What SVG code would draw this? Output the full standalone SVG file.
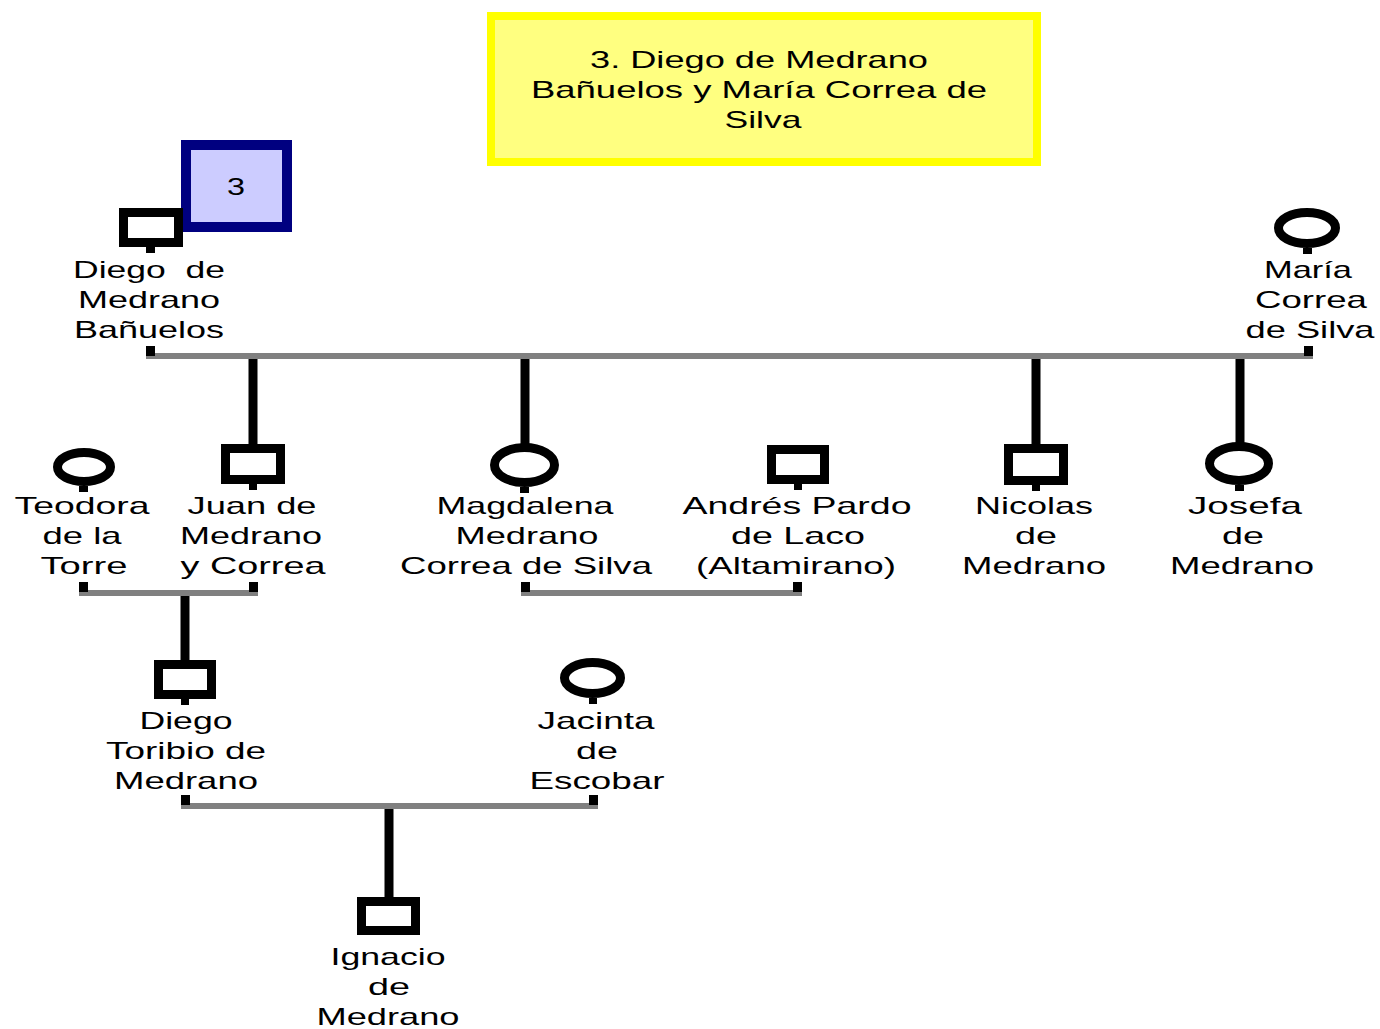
<svg xmlns="http://www.w3.org/2000/svg" width="1380" height="1029" viewBox="0 0 1380 1029">
<style>
.t{font-family:"Liberation Sans",Arial,sans-serif;font-size:24px;fill:#000;text-anchor:middle}
.sq,.ci{fill:#fff;stroke:#000;stroke-width:9}
.m{stroke:#808080;stroke-width:6;fill:none}
.d{stroke:#000;stroke-width:9;fill:none}
.k{fill:#000}
</style>
<rect width="1380" height="1029" fill="#fff"/>
<g id="title">
<rect x="491" y="16" width="546" height="146" fill="#ffff80" stroke="#ffff00" stroke-width="8"/>
<text class="t" x="759" y="68" textLength="338" lengthAdjust="spacingAndGlyphs">3. Diego de Medrano</text>
<text class="t" x="759" y="98" textLength="456" lengthAdjust="spacingAndGlyphs">Bañuelos y María Correa de</text>
<text class="t" x="763" y="128" textLength="77" lengthAdjust="spacingAndGlyphs">Silva</text>
</g>
<g id="badge">
<rect x="186" y="145" width="101" height="82" fill="#ccccff" stroke="#000080" stroke-width="10"/>
<text class="t" x="236" y="195" textLength="18" lengthAdjust="spacingAndGlyphs">3</text>
</g>
<g id="connectors">
<line class="m" x1="146" y1="356" x2="1313" y2="356"/>
<rect class="k" x="146" y="346" width="9" height="10"/>
<rect class="k" x="1304" y="346" width="9" height="10"/>
<line class="d" x1="253" y1="359" x2="253" y2="445"/>
<line class="d" x1="525" y1="359" x2="525" y2="445"/>
<line class="d" x1="1036" y1="359" x2="1036" y2="445"/>
<line class="d" x1="1240" y1="359" x2="1240" y2="445"/>
<line class="m" x1="79" y1="593" x2="258" y2="593"/>
<rect class="k" x="79" y="582" width="9" height="10"/>
<rect class="k" x="249" y="582" width="9" height="10"/>
<line class="d" x1="185" y1="596" x2="185" y2="661"/>
<line class="m" x1="521" y1="593" x2="802" y2="593"/>
<rect class="k" x="521" y="582" width="9" height="10"/>
<rect class="k" x="793" y="582" width="9" height="10"/>
<line class="m" x1="181" y1="806" x2="598" y2="806"/>
<rect class="k" x="181" y="795" width="9" height="10"/>
<rect class="k" x="589" y="795" width="9" height="10"/>
<line class="d" x1="389" y1="809" x2="389" y2="898"/>
</g>
<g id="diego">
<rect class="sq" x="123.5" y="212.5" width="55" height="30"/>
<rect class="k" x="146" y="246" width="9" height="7"/>
<text class="t" x="149" y="278" textLength="152" lengthAdjust="spacingAndGlyphs" xml:space="preserve">Diego  de</text>
<text class="t" x="149" y="308" textLength="142" lengthAdjust="spacingAndGlyphs">Medrano</text>
<text class="t" x="149" y="338" textLength="150" lengthAdjust="spacingAndGlyphs">Bañuelos</text>
</g>
<g id="maria">
<ellipse class="ci" cx="1307" cy="228" rx="28.5" ry="15.5"/>
<rect class="k" x="1303" y="248" width="9" height="6"/>
<text class="t" x="1308" y="278" textLength="88" lengthAdjust="spacingAndGlyphs">María</text>
<text class="t" x="1311" y="308" textLength="112" lengthAdjust="spacingAndGlyphs">Correa</text>
<text class="t" x="1310" y="338" textLength="129" lengthAdjust="spacingAndGlyphs">de Silva</text>
</g>
<g id="teodora">
<ellipse class="ci" cx="84" cy="467" rx="26.5" ry="14.5"/>
<rect class="k" x="79" y="486" width="9" height="6"/>
<text class="t" x="82" y="514" textLength="135" lengthAdjust="spacingAndGlyphs">Teodora</text>
<text class="t" x="82" y="544" textLength="79" lengthAdjust="spacingAndGlyphs">de la</text>
<text class="t" x="84" y="574" textLength="87" lengthAdjust="spacingAndGlyphs">Torre</text>
</g>
<g id="juan">
<rect class="sq" x="225.5" y="448.5" width="55" height="31"/>
<rect class="k" x="249" y="484" width="8" height="6"/>
<text class="t" x="252" y="514" textLength="129" lengthAdjust="spacingAndGlyphs">Juan de</text>
<text class="t" x="251" y="544" textLength="142" lengthAdjust="spacingAndGlyphs">Medrano</text>
<text class="t" x="253" y="574" textLength="145" lengthAdjust="spacingAndGlyphs">y Correa</text>
</g>
<g id="magdalena">
<ellipse class="ci" cx="524.5" cy="465" rx="30" ry="17.5"/>
<rect class="k" x="520" y="487" width="9" height="6"/>
<text class="t" x="525" y="514" textLength="177" lengthAdjust="spacingAndGlyphs">Magdalena</text>
<text class="t" x="527" y="544" textLength="143" lengthAdjust="spacingAndGlyphs">Medrano</text>
<text class="t" x="526" y="574" textLength="252" lengthAdjust="spacingAndGlyphs">Correa de Silva</text>
</g>
<g id="andres">
<rect class="sq" x="771.5" y="449.5" width="53" height="30"/>
<rect class="k" x="794" y="484" width="8" height="6"/>
<text class="t" x="797" y="514" textLength="229" lengthAdjust="spacingAndGlyphs">Andrés Pardo</text>
<text class="t" x="798" y="544" textLength="134" lengthAdjust="spacingAndGlyphs">de Laco</text>
<text class="t" x="796" y="574" textLength="200" lengthAdjust="spacingAndGlyphs">(Altamirano)</text>
</g>
<g id="nicolas">
<rect class="sq" x="1008.5" y="448.5" width="55" height="32"/>
<rect class="k" x="1032" y="485" width="8" height="6"/>
<text class="t" x="1034" y="514" textLength="118" lengthAdjust="spacingAndGlyphs">Nicolas</text>
<text class="t" x="1036" y="544" textLength="42" lengthAdjust="spacingAndGlyphs">de</text>
<text class="t" x="1034" y="574" textLength="144" lengthAdjust="spacingAndGlyphs">Medrano</text>
</g>
<g id="josefa">
<ellipse class="ci" cx="1239" cy="463.5" rx="29.5" ry="17"/>
<rect class="k" x="1235" y="485" width="9" height="6"/>
<text class="t" x="1245" y="514" textLength="114" lengthAdjust="spacingAndGlyphs">Josefa</text>
<text class="t" x="1243" y="544" textLength="42" lengthAdjust="spacingAndGlyphs">de</text>
<text class="t" x="1242" y="574" textLength="144" lengthAdjust="spacingAndGlyphs">Medrano</text>
</g>
<g id="diego-toribio">
<rect class="sq" x="158.5" y="664.5" width="53" height="30"/>
<rect class="k" x="181" y="699" width="8" height="6"/>
<text class="t" x="186" y="729" textLength="93" lengthAdjust="spacingAndGlyphs">Diego</text>
<text class="t" x="186" y="759" textLength="160" lengthAdjust="spacingAndGlyphs">Toribio de</text>
<text class="t" x="186" y="789" textLength="144" lengthAdjust="spacingAndGlyphs">Medrano</text>
</g>
<g id="jacinta">
<ellipse class="ci" cx="592.5" cy="678" rx="28" ry="15.5"/>
<rect class="k" x="589" y="698" width="8" height="6"/>
<text class="t" x="596" y="729" textLength="117" lengthAdjust="spacingAndGlyphs">Jacinta</text>
<text class="t" x="597" y="759" textLength="42" lengthAdjust="spacingAndGlyphs">de</text>
<text class="t" x="597" y="789" textLength="135" lengthAdjust="spacingAndGlyphs">Escobar</text>
</g>
<g id="ignacio">
<rect class="sq" x="361.5" y="901.5" width="54" height="29"/>
<text class="t" x="388" y="965" textLength="115" lengthAdjust="spacingAndGlyphs">Ignacio</text>
<text class="t" x="389" y="995" textLength="42" lengthAdjust="spacingAndGlyphs">de</text>
<text class="t" x="388" y="1025" textLength="143" lengthAdjust="spacingAndGlyphs">Medrano</text>
</g>
</svg>
